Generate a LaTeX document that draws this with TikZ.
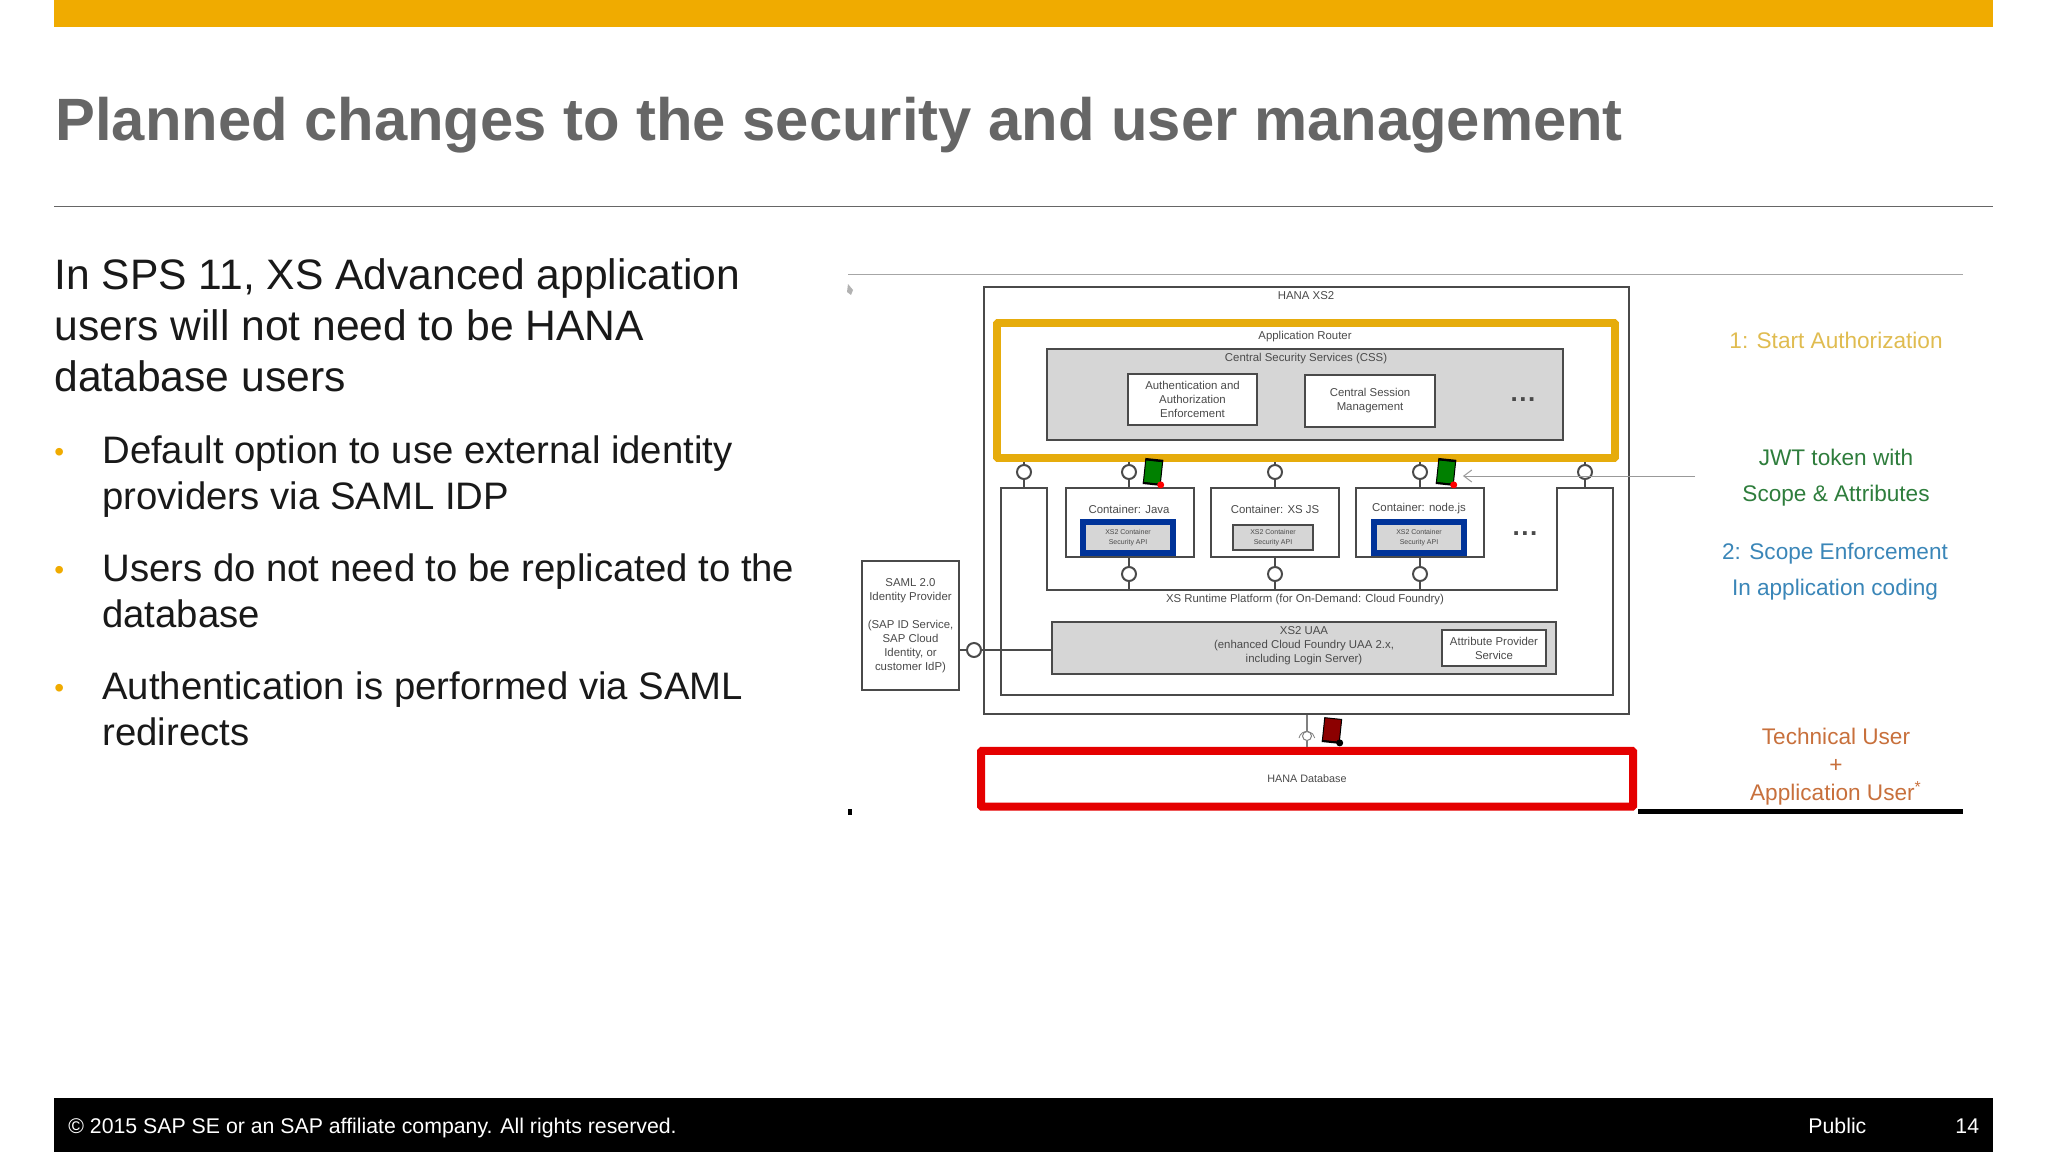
\documentclass[tikz,border=0pt]{standalone}
\usepackage{fontspec}
\usetikzlibrary{arrows.meta}
\setmainfont{Liberation Sans}
\definecolor{sapgold}{HTML}{F0AB00}
\definecolor{routergold}{HTML}{E6AC0C}
\definecolor{sapgray}{HTML}{666666}
\definecolor{inkgray}{HTML}{4A4A4A}
\definecolor{boxgray}{HTML}{D6D6D6}
\definecolor{apiblue}{HTML}{003399}
\definecolor{jwtgreen}{HTML}{2E7D3C}
\definecolor{scopeblue}{HTML}{3A86B8}
\definecolor{userorange}{HTML}{C8703C}
\definecolor{startgold}{HTML}{E0BC50}
\begin{document}
\begin{tikzpicture}[x=.5pt,y=-.5pt]
    \tikzset{box/.style={draw=inkgray,line width=.9pt,fill=white,inner sep=0pt,align=center,text=inkgray,font=\fontsize{5.7}{7}\selectfont},
        grayb/.style={box,fill=boxgray},
        cont/.style={box,minimum width=64pt,minimum height=34.5pt},
        api/.style={grayb,minimum width=45pt,minimum height=15.5pt,font=\fontsize{3.5}{5}\selectfont},
        label/.style={inner sep=0pt,align=center,text=inkgray,font=\fontsize{5.7}{7}\selectfont},
        circ/.style={draw=inkgray,line width=1pt,fill=white,circle,inner sep=0pt,minimum size=7pt},
        wire/.style={draw=inkgray,line width=.8pt},
        token/.style={draw=black,line width=.5pt,inner sep=0pt,minimum width=8.5pt,minimum height=11.5pt},
        side/.style={inner sep=0pt,align=center,font=\fontsize{11.3}{18}\selectfont},
        para/.style={inner sep=0pt,anchor=north west,align=left,text=black!90,font=\fontsize{21.3}{25.5}\selectfont},
        item/.style={inner sep=0pt,anchor=north west,align=left,text=black!90,font=\fontsize{19.15}{23}\selectfont},
        bullet/.style={inner sep=0pt,anchor=base west,text=sapgold,font=\fontsize{14}{14}\selectfont},
        foot/.style={inner sep=0pt,anchor=base west,text=white,font=\fontsize{10.64}{12}\selectfont}}
    \useasboundingbox[fill=white] (0,0) rectangle (2048,1152);

    % slide frame
    \fill[sapgold] (54,0) rectangle (1993,27);
    \fill[black] (54,1098) rectangle (1993,1152);
    \draw[sapgray,line width=.6pt] (54,206.5) -- (1993,206.5);
    \node[inner sep=0pt,anchor=base west,text=sapgray,font=\fontsize{29.88}{36}\bfseries\selectfont] (title) at (55,140) {Planned changes to the security and user management};
    \node[foot] (copy) at (68,1133) {© 2015 SAP SE or an SAP affiliate company. All rights reserved.};
    \node[foot] (pub) at (1808,1133) {Public};
    \node[foot] (page) at (1955,1133) {14};

    % left text
    \node[para] (intro) at (54,257.8) {In SPS 11, XS Advanced application\\users will not need to be HANA\\database users};
    \node[bullet] (b1) at (54,461) {•};
    \node[item] (i1) at (102,435.8) {Default option to use external identity\\providers via SAML IDP};
    \node[bullet] (b2) at (54,579) {•};
    \node[item] (i2) at (102,553.8) {Users do not need to be replicated to the\\database};
    \node[bullet] (b3) at (54,697) {•};
    \node[item] (i3) at (102,671.8) {Authentication is performed via SAML\\redirects};

    % picture frame
    \draw[gray!70,line width=.6pt] (848,274.5) -- (1963,274.5);
    \fill[black] (1638,809) rectangle (1963,814);
    \fill[black] (848,809) rectangle (852,815);
    \fill[gray!60] (848,284) -- (853,290) -- (851,295) -- (847,292) -- cycle;

    % outer boxes
    \node[box,minimum width=322.5pt,minimum height=213.5pt] (xs2) at (1306.5,500.5) {};
    \node[label] (xs2l) at (1306,296) {HANA XS2};
    \node[box,draw=routergold,line width=3.8pt,rounded corners=.4pt,minimum width=309pt,minimum height=67.5pt] (router) at (1306,390.5) {};
    \node[label] (routerl) at (1305,337) {Application Router};
    \node[grayb,minimum width=258pt,minimum height=45.5pt] (css) at (1305,394.5) {};
    \node[label] (cssl) at (1306,359) {Central Security Services (CSS)};
    \node[box,minimum width=64.5pt,minimum height=25.5pt] (auth) at (1192.5,399.5) {Authentication and\\Authorization\\Enforcement};
    \node[box,minimum width=65pt,minimum height=26pt] (sess) at (1370,401) {Central Session\\Management};
    \node[label,font=\fontsize{13}{14}\bfseries\selectfont] (cssdots) at (1523,400) {.\kern.8pt.\kern.8pt.};

    % runtime platform
    \coordinate (rtl) at (1024,488);
    \coordinate (rtr) at (1585,488);
    \draw[wire,line width=.9pt] (1001,488) -- (1047,488) -- (1047,590) -- (1557,590) -- (1557,488) -- (1613,488) -- (1613,695) -- (1001,695) -- cycle;
    \node[label] (rtlabel) at (1305,600) {XS Runtime Platform (for On-Demand: Cloud Foundry)};

    % containers
    \node[cont] (java) at (1130,522.5) {};
    \node[label] (javal) at (1129,509) {Container: Java};
    \node[api,draw=apiblue,line width=2.8pt] (japi) at (1128,537.5) {XS2 Container\\Security API};
    \node[cont] (xsjs) at (1275,522.5) {};
    \node[label] (xsjsl) at (1275,509) {Container: XS JS};
    \node[api,minimum width=40pt,minimum height=12.5pt] (xapi) at (1273,537.5) {XS2 Container\\Security API};
    \node[cont] (node) at (1420,522.5) {};
    \node[label] (nodel) at (1419,509) {Container: node.js};
    \node[api,draw=apiblue,line width=2.8pt] (napi) at (1419,537.5) {XS2 Container\\Security API};
    \node[label,font=\fontsize{13}{14}\bfseries\selectfont] (rtdots) at (1525,534) {.\kern.8pt.\kern.8pt.};

    % uaa
    \node[grayb,minimum width=252pt,minimum height=26pt] (uaa) at (1304,648) {};
    \node[label] (uaal) at (1304,646) {XS2 UAA\\(enhanced Cloud Foundry UAA 2.x,\\including Login Server)};
    \node[box,minimum width=52pt,minimum height=18pt] (attr) at (1494,648) {Attribute Provider\\Service};

    % identity provider and database
    \node[box,minimum width=48.5pt,minimum height=64.5pt] (saml) at (910.5,625.5) {SAML 2.0\\Identity Provider\\[7pt](SAP ID Service,\\SAP Cloud\\Identity, or\\customer IdP)};
    \node[box,draw=red!90!black,line width=4pt,rounded corners=.4pt,minimum width=326pt,minimum height=27.8pt,font=\fontsize{5.4}{7}\selectfont] (hana) at (1307,778.7) {HANA Database};

    % interfaces
    \node[circ] (o1) at (1024,472) {};
    \node[circ] (o2) at (1129,472) {};
    \node[circ] (o3) at (1275,472) {};
    \node[circ] (o4) at (1420,472) {};
    \node[circ] (o5) at (1585,472) {};
    \node[circ] (u2) at (1129,574) {};
    \node[circ] (u3) at (1275,574) {};
    \node[circ] (u4) at (1420,574) {};
    \node[circ] (os) at (974,650) {};
    \draw[wire] (o1) -- (o1 |- router.south);
    \draw[wire] (o1) -- (rtl);
    \draw[wire] (o2) -- (o2 |- router.south);
    \draw[wire] (o2) -- (o2 |- java.north);
    \draw[wire] (o3) -- (o3 |- router.south);
    \draw[wire] (o3) -- (o3 |- xsjs.north);
    \draw[wire] (o4) -- (o4 |- router.south);
    \draw[wire] (o4) -- (o4 |- node.north);
    \draw[wire] (o5) -- (o5 |- router.south);
    \draw[wire] (o5) -- (rtr);
    \draw[wire] (u2) -- (u2 |- java.south);
    \draw[wire] (u2) -- (1129,590);
    \draw[wire] (u3) -- (u3 |- xsjs.south);
    \draw[wire] (u3) -- (1275,590);
    \draw[wire] (u4) -- (u4 |- node.south);
    \draw[wire] (u4) -- (1420,590);
    \draw[wire] (os) -- (os -| saml.east);
    \draw[wire] (os) -- (os -| uaa.west);

    % database socket
    \node[circ,draw=gray,line width=.5pt,minimum size=4.5pt] (sock) at (1307,736) {};
    \draw[wire,draw=gray] (sock) -- (sock |- xs2.south);
    \draw[wire,draw=gray] (sock) -- (sock |- hana.north);
    \draw[gray,line width=.4pt] (1299,738) arc (190:350:8);

    % tokens
    \node[token,fill=green!50!black,rotate=-6] (tk1) at (1153,472) {};
    \draw[black,line width=1.2pt] (tk1.north west) -- (tk1.north east);
    \draw[black,line width=1pt] (tk1.south west) -- (tk1.south east);
    \node[circle,fill=red,inner sep=0pt,minimum size=3.5pt] (tk1d) at (tk1.south east) {};
    \node[token,fill=green!50!black,rotate=-6] (tk2) at (1446,472) {};
    \draw[black,line width=1.2pt] (tk2.north west) -- (tk2.north east);
    \draw[black,line width=1pt] (tk2.south west) -- (tk2.south east);
    \node[circle,fill=red,inner sep=0pt,minimum size=3.5pt] (tk2d) at (tk2.south east) {};
    \node[token,fill=red!55!black,rotate=-6] (tk3) at (1332,730) {};
    \draw[black,line width=1pt] (tk3.south west) -- (tk3.south east);
    \node[circle,fill=black,inner sep=0pt,minimum size=3.5pt] (tk3d) at (tk3.south east) {};

    % jwt hint
    \coordinate (jwtend) at (1695,476);
    \draw[->,>={Straight Barb[length=4pt,width=6pt]},gray!80,line width=.5pt,shorten >=4pt] (jwtend) -- (jwtend -| tk2.east);

    % notes on the right
    \node[side,text=startgold] (n1) at (1836,340) {1: Start Authorization};
    \node[side,text=jwtgreen] (n2) at (1836,478) {JWT token with\\Scope \& Attributes};
    \node[side,text=scopeblue] (n3) at (1835,572) {2: Scope Enforcement\\In application coding};
    \node[side,text=userorange] (n4) at (1836,767) {Technical User\\[-4pt]+\\[-4pt]Application User\textsuperscript{*}};
\end{tikzpicture}
\end{document}
